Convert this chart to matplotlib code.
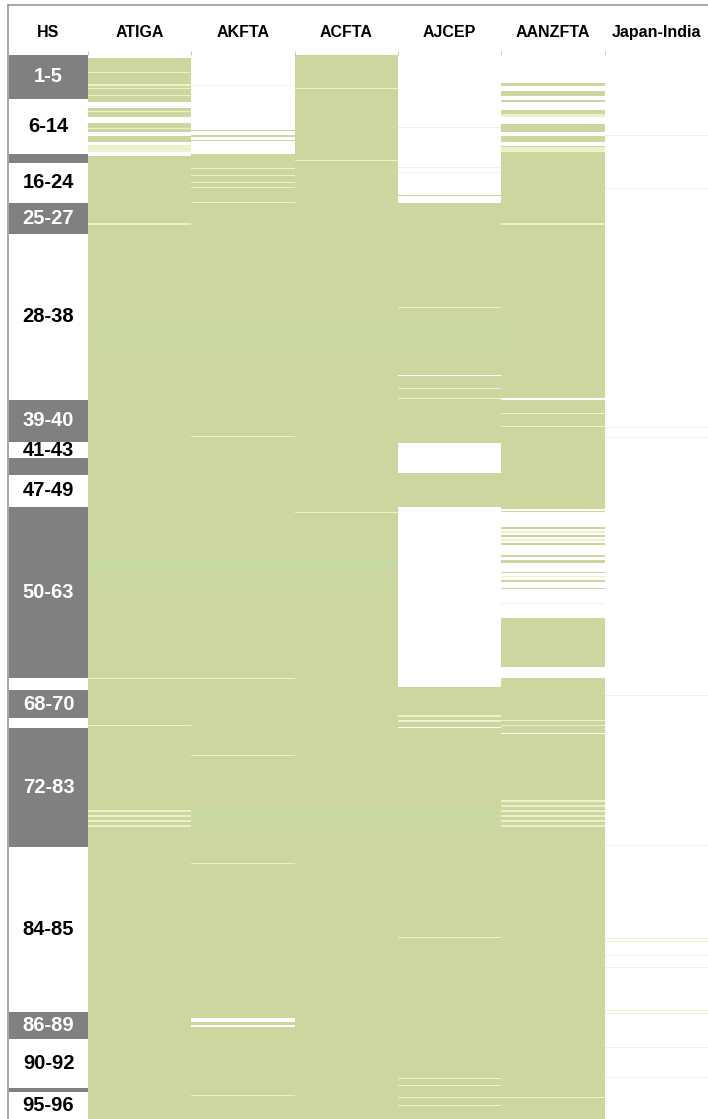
import numpy as np
import matplotlib.pyplot as plt
from matplotlib.lines import Line2D

# HS chapter groups: labels, edges in tariff-line rows, shade (1 = dark)
hs_labels = ["1-5", "6-14", "", "16-24", "25-27", "28-38", "39-40", "41-43", "",
             "47-49", "50-63", "", "68-70", "", "72-83", "84-85", "86-89", "90-92", "", "95-96"]
hs_edges = [0, 44, 99, 108, 148, 179, 345, 387, 403, 420, 452, 623, 635, 663, 673,
            792, 957, 984, 1033, 1037, 1064]
hs_dark = [1, 0, 1, 0, 1, 0, 1, 0, 1, 0, 1, 0, 1, 0, 1, 0, 1, 0, 1, 0]

agreements = ["ATIGA", "AKFTA", "ACFTA", "AJCEP", "AANZFTA", "Japan-India"]
n_lines = hs_edges[-1]

# cell codes: 0 excluded (white), 1 covered, 2 pale line, 3 light green band, 4 faint line
W, G, P, B, F = 0, 1, 2, 3, 4

# bands as (first row, last row, code), painted over the default code
atiga = [(0, 3, W), (17, 18, P), (29, 31, P), (33, 34, P), (40, 41, P),
         (47, 53, W), (56, 57, P), (62, 68, W), (73, 74, P), (77, 81, W),
         (87, 90, W), (90, 97, P), (97, 101, W), (168, 170, P),
         (265, 266, B), (285, 287, B), (505, 515, B), (525, 528, B),
         (623, 624, P), (670, 671, P), (755, 757, P), (760, 762, P),
         (765, 767, P), (770, 772, P)]
akfta = [(0, 99, W), (30, 31, F), (75, 76, G), (80, 82, G), (85, 86, G),
         (113, 114, P), (120, 121, P), (127, 128, P), (132, 133, P), (147, 148, P),
         (265, 266, B), (285, 287, B), (381, 382, P), (505, 515, B), (525, 528, B),
         (623, 624, P), (700, 701, P), (755, 762, B), (808, 809, P),
         (963, 967, W), (970, 972, W), (1040, 1041, P)]
acfta = [(33, 34, P), (105, 106, P), (265, 266, B), (285, 287, B), (457, 458, P),
         (505, 515, B), (525, 528, B), (755, 762, B)]
ajcep = [(0, 148, W), (72, 73, F), (112, 113, F), (117, 118, F), (140, 141, G),
         (252, 253, P), (265, 266, B), (285, 287, B), (320, 321, W), (333, 334, P),
         (343, 344, P), (388, 418, W), (452, 632, W), (660, 662, P), (665, 667, P),
         (672, 673, W), (755, 762, B), (882, 883, P), (1023, 1024, P),
         (1030, 1031, P), (1042, 1043, P), (1050, 1051, P)]
aanzfta = [(0, 28, W), (31, 36, W), (41, 45, W), (47, 55, W), (59, 62, P),
           (62, 69, W), (77, 81, W), (87, 91, W), (92, 97, P), (168, 170, P),
           (343, 345, W), (358, 359, P), (371, 372, P),
           (452, 623, W), (452, 454, G), (456, 457, G), (472, 474, G), (476, 478, P),
           (480, 482, G), (484, 486, P), (488, 490, G), (500, 502, G), (505, 508, G),
           (517, 518, G), (521, 522, P), (525, 527, G), (533, 534, G), (548, 549, F),
           (563, 612, G), (665, 666, P), (670, 671, P), (678, 679, W),
           (745, 747, P), (750, 752, P), (755, 757, P), (760, 762, P),
           (765, 767, P), (770, 772, P), (1042, 1043, P)]
japan_india = [(80, 81, F), (133, 134, F), (372, 373, F), (382, 383, F), (640, 641, F),
               (790, 791, F), (883, 884, P), (886, 887, P), (900, 901, F), (912, 913, F),
               (955, 956, P), (958, 959, P), (992, 993, F), (1022, 1023, F)]

column_bands = [atiga, akfta, acfta, ajcep, aanzfta, japan_india]
column_default = [G, G, G, G, G, W]

palette = np.array([
    [255, 255, 255],   # white
    [204, 214, 159],   # green
    [236, 241, 204],   # pale line
    [197, 217, 160],   # light green band
    [240, 240, 232],   # faint line
]) / 255.0

# build the coverage matrix
codes = np.zeros((n_lines, len(agreements)), dtype=int)
for j, bands in enumerate(column_bands):
    codes[:, j] = column_default[j]
    for a, b, c in bands:
        codes[a:b, j] = c

plt.rcParams["font.family"] = ["Liberation Sans Narrow", "Liberation Sans", "DejaVu Sans"]

fig = plt.figure(figsize=(7.08, 11.19), dpi=100)
top = (1119 - 55) / 1119

# coverage columns
ax = fig.add_axes([88 / 708, 0, 620 / 708, top])
ax.imshow(palette[codes], aspect="auto", interpolation="nearest",
          extent=(0, len(agreements), n_lines, 0))
ax.set_xlim(0, len(agreements))
ax.set_ylim(n_lines, 0)
ax.xaxis.tick_top()
ax.set_xticks(np.arange(len(agreements)) + 0.5)
ax.set_xticklabels(agreements, fontsize=11.5, fontweight="bold")
ax.set_xticks(np.arange(len(agreements)), minor=True)
ax.tick_params(axis="x", which="major", length=0, pad=11)
ax.tick_params(axis="x", which="minor", length=3, color="#bbbbbb", top=True, bottom=False)
ax.set_yticks([])
for s in ax.spines.values():
    s.set_visible(False)

# HS chapter column
ax_hs = fig.add_axes([9 / 708, 0, 79 / 708, top])
edges = np.array(hs_edges)
heights = np.diff(edges)
centers = edges[:-1] + heights / 2
shade = ["#808080" if d else "white" for d in hs_dark]
ax_hs.barh(centers, 1, height=heights, left=0, color=shade, edgecolor="none")
for c, lab, d in zip(centers, hs_labels, hs_dark):
    if lab:
        ax_hs.text(0.5, c, lab, ha="center", va="center", fontsize=14.5,
                   fontweight="bold", color="white" if d else "black")
ax_hs.set_xlim(0, 1)
ax_hs.set_ylim(n_lines, 0)
ax_hs.xaxis.tick_top()
ax_hs.set_xticks([0.5])
ax_hs.set_xticklabels(["HS"], fontsize=11.5, fontweight="bold")
ax_hs.tick_params(axis="x", length=0, pad=11)
ax_hs.set_yticks([])
for s in ax_hs.spines.values():
    s.set_visible(False)

# frame lines
fig.add_artist(Line2D([8 / 708, 1], [1 - 5 / 1119, 1 - 5 / 1119], color="#999999", lw=1.2))
fig.add_artist(Line2D([8 / 708, 8 / 708], [0, 1 - 5 / 1119], color="#999999", lw=1.2))

fig.savefig("out.png", dpi=100)
